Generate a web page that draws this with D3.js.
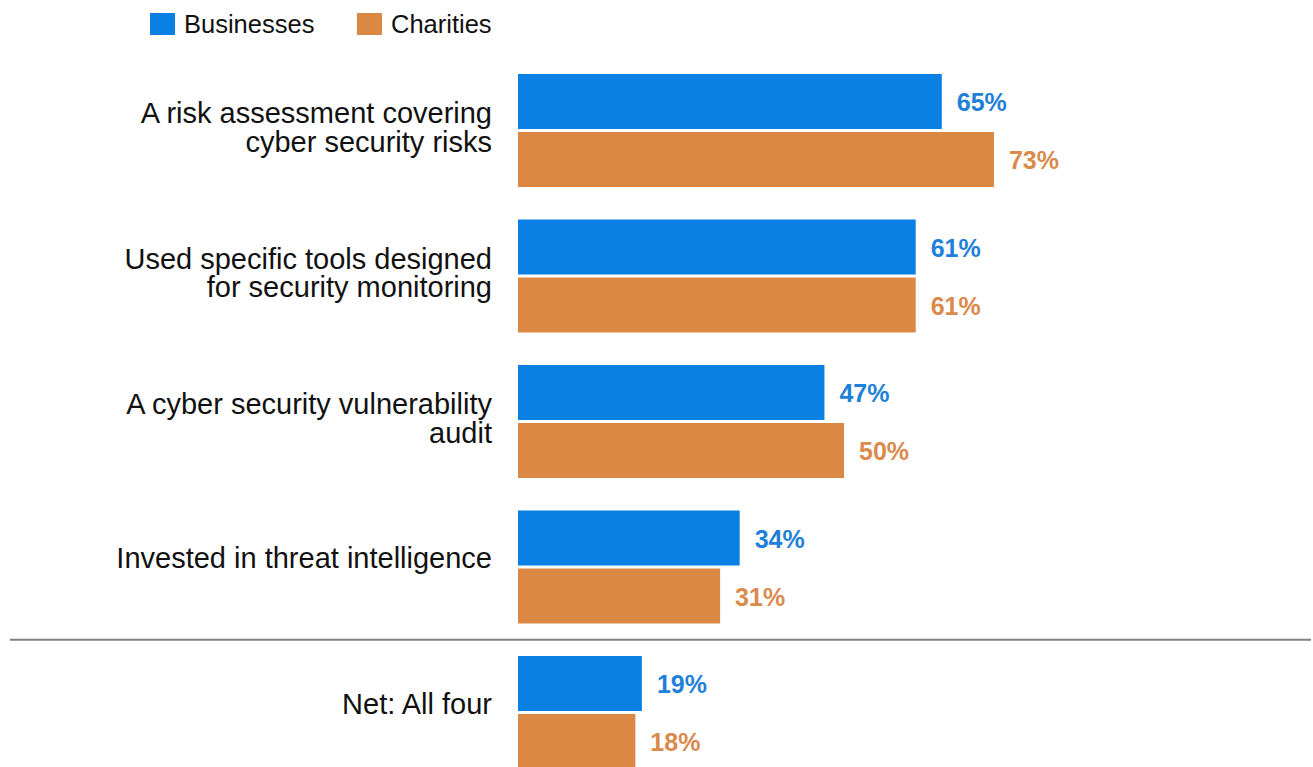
<!DOCTYPE html>
<html>
<head>
<meta charset="utf-8">
<script src="https://cdn.jsdelivr.net/npm/d3@7/dist/d3.min.js"></script>
<style>
  html, body { margin: 0; padding: 0; background: #ffffff; }
  svg { display: block; font-family: "Liberation Sans", Arial, sans-serif; }
</style>
</head>
<body>
<svg id="chart" width="1313" height="767"></svg>
<script>
// Measures taken (share of organisations)
const categories = [
  ["A risk assessment covering", "cyber security risks"],
  ["Used specific tools designed", "for security monitoring"],
  ["A cyber security vulnerability", "audit"],
  ["Invested in threat intelligence"],
  ["Net: All four"]
];
const seriesNames = ["Businesses", "Charities"];
const businesses = [65, 61, 47, 34, 19];
const charities = [73, 61, 50, 31, 18];

const barColors = { Businesses: "#0b80e4", Charities: "#dc8845" };
const labelColors = { Businesses: "#1e80d8", Charities: "#da8a4c" };

const svg = d3.select("#chart");
const keys = categories.map(c => c.join(" "));

const x = d3.scaleLinear().domain([0, 100]).range([518, 1170]);
const y = d3.scaleBand()
  .domain(keys)
  .range([74, 769])
  .paddingInner(32.5 / 145.5)
  .paddingOuter(0);
const ySub = d3.scaleBand()
  .domain(seriesNames)
  .range([0, y.bandwidth()])
  .paddingInner(3 / 58);

const rows = keys.map((k, i) => ({
  key: k,
  lines: categories[i],
  values: [
    { series: "Businesses", value: businesses[i] },
    { series: "Charities", value: charities[i] }
  ]
}));

// Legend
const legend = svg.append("g").attr("class", "legend");
const legendX = [150, 357];
seriesNames.forEach((s, i) => {
  const g = legend.append("g").attr("transform", `translate(${legendX[i]},13)`);
  g.append("rect").attr("width", 25).attr("height", 22).attr("fill", barColors[s]);
  g.append("text")
    .attr("x", 34).attr("y", 11).attr("dy", "0.35em")
    .attr("font-size", 25.5).attr("fill", "#111")
    .text(s);
});

// Groups
const groups = svg.append("g").selectAll("g.row")
  .data(rows)
  .join("g")
  .attr("class", "row")
  .attr("transform", d => `translate(0,${y(d.key)})`);

groups.selectAll("rect")
  .data(d => d.values)
  .join("rect")
  .attr("x", x(0))
  .attr("y", d => ySub(d.series))
  .attr("width", d => x(d.value) - x(0))
  .attr("height", ySub.bandwidth())
  .attr("fill", d => barColors[d.series]);

groups.selectAll("text.val")
  .data(d => d.values)
  .join("text")
  .attr("class", "val")
  .attr("x", d => x(d.value) + 15)
  .attr("y", d => ySub(d.series) + ySub.bandwidth() / 2 + 1)
  .attr("dy", "0.35em")
  .attr("font-size", 25)
  .attr("font-weight", "bold")
  .attr("fill", d => labelColors[d.series])
  .text(d => d.value + "%");

// Category labels, right aligned against the bars
const lineH = 28.5;
groups.append("text")
  .attr("class", "cat")
  .attr("text-anchor", "end")
  .attr("font-size", 29)
  .attr("fill", "#111")
  .each(function (d) {
    const t = d3.select(this);
    const n = d.lines.length;
    const mid = y.bandwidth() / 2 - (n === 1 ? 9 : 3);
    d.lines.forEach((line, j) => {
      t.append("tspan")
        .attr("x", 492)
        .attr("y", mid + (j - (n - 1) / 2) * lineH)
        .attr("dy", "0.35em")
        .text(line);
    });
  });

// Divider between the individual measures and the net figure
const divY = (y(keys[3]) + y.bandwidth() + y(keys[4])) / 2;
svg.append("line")
  .attr("x1", 10).attr("x2", 1311)
  .attr("y1", divY).attr("y2", divY)
  .attr("stroke", "#808080")
  .attr("stroke-width", 2);
</script>
</body>
</html>
